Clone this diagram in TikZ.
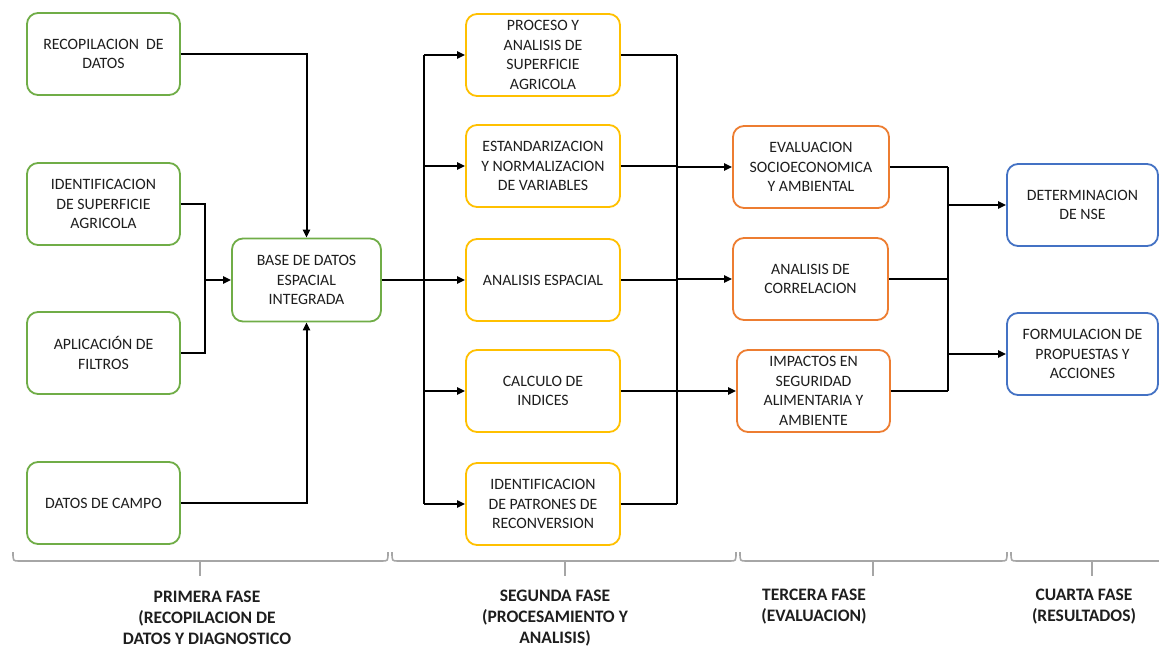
\documentclass[tikz,border=0pt]{standalone}
\usepackage{fontspec}
\setmainfont{Carlito}
\usetikzlibrary{arrows.meta}
\definecolor{cgreen}{HTML}{70AD47}
\definecolor{cyellow}{HTML}{FFC000}
\definecolor{corange}{HTML}{ED7D31}
\definecolor{cblue}{HTML}{4472C4}
\definecolor{cgray}{HTML}{A6A6A6}
\definecolor{ctext}{HTML}{1E1E1E}
\begin{document}
\begin{tikzpicture}[x=1pt,y=-1pt,
  box/.style={draw, rounded corners=11pt, line width=1.8pt, fill=white, align=center,
    minimum height=82pt, inner sep=2pt, text=ctext,
    font=\fontsize{15.8}{19.5}\selectfont},
  gbox/.style={box, draw=cgreen, minimum width=153pt},
  ybox/.style={box, draw=cyellow, minimum width=154pt},
  obox/.style={box, draw=corange, minimum width=155pt},
  bbox/.style={box, draw=cblue, minimum width=151pt},
  conn/.style={line width=2pt, black},
  arr/.style={conn, -{Triangle[length=8pt,width=7pt]}},
  brace/.style={draw=cgray, line width=1.6pt},
  phase/.style={align=center, text=ctext, font=\bfseries\fontsize{17.5}{21}\selectfont}
]
\useasboundingbox[fill=white] (0,0) rectangle (1159,648);

% first phase
\node[gbox] (rec) at (103.5,54) {RECOPILACION\ \ DE\\DATOS};
\node[gbox] (ids) at (103.5,204) {IDENTIFICACION\\DE SUPERFICIE\\AGRICOLA};
\node[gbox] (apl) at (103.5,353) {APLICACIÓN DE\\FILTROS};
\node[gbox] (cam) at (103.5,503) {DATOS DE CAMPO};
\node[gbox, minimum width=149pt, minimum height=83pt] (base) at (306.5,280) {BASE DE DATOS\\ESPACIAL\\INTEGRADA};

% second phase
\node[ybox] (y1) at (543,55) {PROCESO Y\\ANALISIS DE\\SUPERFICIE\\AGRICOLA};
\node[ybox] (y2) at (543,166) {ESTANDARIZACION\\Y NORMALIZACION\\DE VARIABLES};
\node[ybox] (y3) at (543,280) {ANALISIS ESPACIAL};
\node[ybox] (y4) at (543,391) {CALCULO DE\\INDICES};
\node[ybox] (y5) at (543,504) {IDENTIFICACION\\DE PATRONES DE\\RECONVERSION};

% third phase
\node[obox, minimum width=156pt] (o1) at (811,167) {EVALUACION\\SOCIOECONOMICA\\Y AMBIENTAL};
\node[obox] (o2) at (810.5,279) {ANALISIS DE\\CORRELACION};
\node[obox, minimum width=153pt] (o3) at (813.5,391) {IMPACTOS EN\\SEGURIDAD\\ALIMENTARIA Y\\AMBIENTE};

% fourth phase
\node[bbox] (d1) at (1082.5,205) {DETERMINACION\\DE NSE};
\node[bbox] (d2) at (1082.5,354) {FORMULACION DE\\PROPUESTAS Y\\ACCIONES};

% junction coordinates
\coordinate (j1) at (205,280);
\coordinate (b1) at (424,280);
\coordinate (b2) at (677,280);
\coordinate (b3) at (948,280);

% connectors phase 1
\draw[arr] (rec.east) -| (base.north);
\draw[conn] (ids.east) -- (ids.east -| j1) -- (apl.east -| j1) -- (apl.east);
\draw[arr] (j1) -- (base.west);
\draw[arr] (cam.east) -| (base.south);

% connectors phase 2
\draw[conn] (base.east) -- (b1);
\draw[conn] (b1 |- y1.west) -- (b1 |- y5.west);
\foreach \n in {y1,y2,y3,y4,y5}{
  \draw[arr] (b1 |- \n.west) -- (\n.west);
  \draw[conn] (\n.east) -- (b2 |- \n.east);
}
\draw[conn] (b2 |- y1.east) -- (b2 |- y5.east);

% connectors phase 3
\foreach \n in {o1,o2,o3}{
  \draw[arr] (b2 |- \n.west) -- (\n.west);
  \draw[conn] (\n.east) -- (b3 |- \n.east);
}
\draw[conn] (b3 |- o1.east) -- (b3 |- o3.east);
\draw[arr] (b3 |- d1.west) -- (d1.west);
\draw[arr] (b3 |- d2.west) -- (d2.west);

% braces
\draw[brace] (13,552) .. controls (13,561) .. (19,561) -- (382,561) .. controls (388,561) .. (388,552);
\draw[brace] (200,561) -- (200,576);
\draw[brace] (392,552) .. controls (392,561) .. (398,561) -- (730,561) .. controls (736,561) .. (736,552);
\draw[brace] (565,561) -- (565,576);
\draw[brace] (740,552) .. controls (740,561) .. (746,561) -- (1001,561) .. controls (1007,561) .. (1007,552);
\draw[brace] (873,561) -- (873,576);
\draw[brace] (1011,552) .. controls (1011,561) .. (1017,561) -- (1159,561);
\draw[brace] (1092,561) -- (1092,576);

% phase labels
\node[phase] (p1) at (207,618) {PRIMERA FASE\\(RECOPILACION DE\\DATOS Y DIAGNOSTICO};
\node[phase] (p2) at (555,618) {SEGUNDA FASE\\(PROCESAMIENTO Y\\ANALISIS)};
\node[phase] (p3) at (814,607) {TERCERA FASE\\(EVALUACION)};
\node[phase] (p4) at (1084,607) {CUARTA FASE\\(RESULTADOS)};
\end{tikzpicture}
\end{document}
